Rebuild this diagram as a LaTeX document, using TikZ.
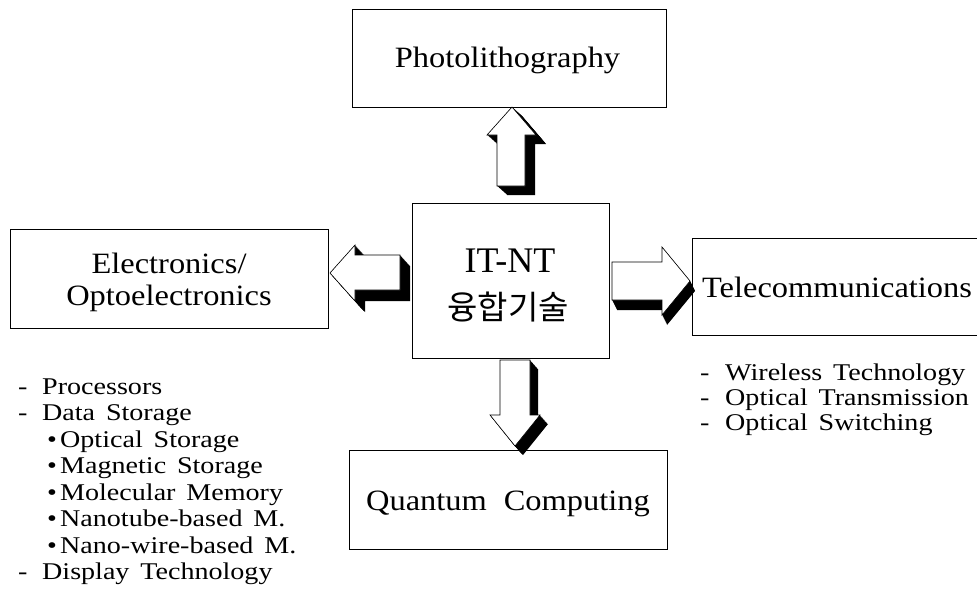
\documentclass[tikz,border=0pt]{standalone}
\usepackage{fontspec}
\setmainfont{Liberation Serif}[FakeStretch=1.1]
\newfontfamily\listfont{Liberation Serif}[FakeStretch=1.17]
\newfontfamily\plainserif{Liberation Serif}
\newfontfamily\kofont{Noto Sans CJK KR}
\newcommand\lstfontsetup{\listfont\fontsize{24}{25}\selectfont\spaceskip=0.45em\relax}
\newcommand\dashmark{\makebox[24pt][l]{-}}
\newcommand\bulmark{\makebox[13pt][l]{•}}
\begin{document}
\begin{tikzpicture}[x=1pt,y=-1pt,
  box/.style={draw=black, line width=1pt, inner sep=0pt},
  ttl/.style={font=\fontsize{29.5}{32}\selectfont, anchor=base, inner sep=0pt},
  lst/.style={font=\lstfontsetup, anchor=base west, inner sep=0pt},
  face/.style={fill=white, draw=black, line width=0.6pt, line join=miter},
  upA/.style={insert path={(512,107) -- (536,135) -- (525,135) -- (525,186) -- (497,186) -- (497,135) -- (487,135) -- cycle}},
  leftA/.style={insert path={(330,273) -- (355,245) -- (355,255) -- (400,255) -- (400,290) -- (355,290) -- (355,301) -- cycle}},
  rightA/.style={insert path={(690,281) -- (662,247) -- (662,262) -- (612,262) -- (612,300) -- (662,300) -- (662,315) -- cycle}},
  downA/.style={insert path={(515,446) -- (490,415) -- (500,415) -- (500,360) -- (530,360) -- (530,415) -- (540,415) -- cycle}}
]
\useasboundingbox (0,0) rectangle (977,589);
\clip (0,0) rectangle (977,589);

% block arrows: black extrusion, then white face
\foreach \t in {0,0.05,...,1.01} {
  \fill[black, shift={(10*\t,9*\t)}, upA];
  \fill[black, shift={(10*\t,11*\t)}, leftA];
  \fill[black, shift={(5*\t,10*\t)}, rightA];
  \fill[black, shift={(8*\t,9*\t)}, downA];
}
\filldraw[face, upA];
\filldraw[face, leftA];
\filldraw[face, rightA];
\filldraw[face, downA];

% boxes
\node[box, minimum width=314, minimum height=98] (photo) at (509,58) {};
\node[box, minimum width=197, minimum height=155] (core) at (510.5,280.5) {};
\node[box, minimum width=318, minimum height=99] (elec) at (169,278.5) {};
\node[box, minimum width=300, minimum height=97] (tele) at (842,286.5) {};
\node[box, minimum width=318, minimum height=99] (quant) at (508,499.5) {};

% titles
\node[ttl] (photoT) at (507.5,67) {Photolithography};
\node[ttl] (elecT1) at (169,273) {Electronics/};
\node[ttl] (elecT2) at (169,305) {Optoelectronics};
\node[ttl] (teleT) at (837,297) {Telecommunications};
\node[ttl] (quantT) at (508,510) {Quantum\hspace{17pt}Computing};
\node[anchor=base, inner sep=0pt, font=\plainserif\fontsize{36}{40}\selectfont] (itnt) at (510,272) {IT-NT};
\node[anchor=base, inner sep=0pt, font=\kofont\fontsize{33}{36}\selectfont] (ko) at (508,319) {융합기술};

% left list
\node[lst] (l1) at (18,394) {\dashmark Processors};
\node[lst] (l2) at (18,420.5) {\dashmark Data Storage};
\node[lst] (l3) at (47,447) {\bulmark Optical Storage};
\node[lst] (l4) at (47,473.5) {\bulmark Magnetic Storage};
\node[lst] (l5) at (47,500) {\bulmark Molecular Memory};
\node[lst] (l6) at (47,526.5) {\bulmark Nanotube-based M.};
\node[lst] (l7) at (47,553) {\bulmark Nano-wire-based M.};
\node[lst] (l8) at (18,579.5) {\dashmark Display Technology};

% right list
\node[lst] (r1) at (700,380) {\makebox[25pt][l]{-}Wireless Technology};
\node[lst] (r2) at (700,405) {\makebox[25pt][l]{-}Optical Transmission};
\node[lst] (r3) at (700,430) {\makebox[25pt][l]{-}Optical Switching};
\end{tikzpicture}
\end{document}
